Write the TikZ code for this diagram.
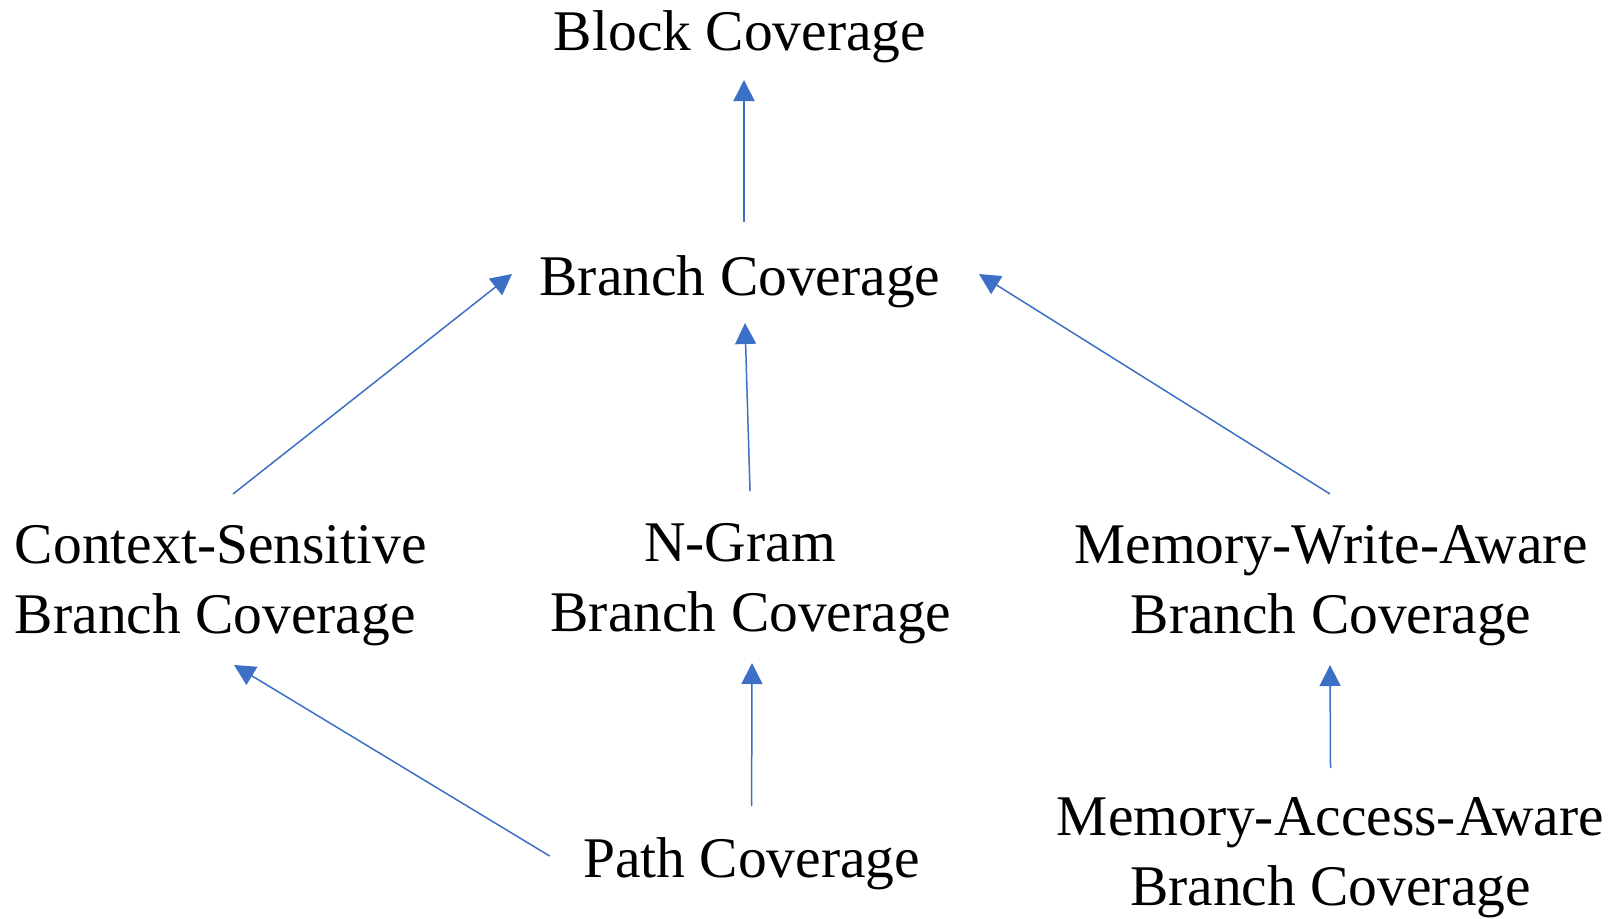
\documentclass[tikz,border=0pt]{standalone}
\usepackage{fontspec}
\setmainfont{Liberation Serif}
\usetikzlibrary{arrows.meta}
\definecolor{arrowblue}{RGB}{60,112,198}
\begin{document}
\begin{tikzpicture}[x=1pt,y=-1pt,
  label/.style={inner sep=0pt, anchor=base, font=\fontsize{57.5}{70}\selectfont, align=center},
  arr/.style={draw=arrowblue, line width=1.5pt, -{Triangle[width=21pt,length=21pt]}}]
  \useasboundingbox (0,0) rectangle (1621,918);

  % coverage criteria (multi-line labels are placed by their last baseline)
  \node[label] (block)  at (740,50)    {Block Coverage};
  \node[label] (branch) at (740,295)   {Branch Coverage};
  \node[label, align=left] (cs) at (221,633) {Context-Sensitive\\Branch Coverage};
  \node[label] (ngram)  at (751,631)   {N-Gram\hspace*{22pt}\\Branch Coverage};
  \node[label] (mwa)    at (1331,633)  {Memory-Write-Aware\\Branch Coverage};
  \node[label] (path)   at (751.6,877) {Path Coverage};
  \node[label] (maa)    at (1330.5,905) {Memory-Access-Aware\\Branch Coverage};

  % subsumption arrows
  \draw[arr] ([shift={(4,-73)}]branch.base)  -- ([shift={(4,30)}]block.base);
  \draw[arr] ([shift={(12,-139)}]cs.base)    -- ([shift={(-228,-21)}]branch.base);
  \draw[arr] ([shift={(-1,-140)}]ngram.base) -- ([shift={(5,28)}]branch.base);
  \draw[arr] ([shift={(-1,-139)}]mwa.base)   -- ([shift={(239,-21)}]branch.base);
  \draw[arr] ([shift={(-202,-21)}]path.base) -- ([shift={(13,32)}]cs.base);
  \draw[arr] ([shift={(0,-71)}]path.base)    -- ([shift={(1,32)}]ngram.base);
  \draw[arr] ([shift={(0,-137)}]maa.base)    -- ([shift={(-1,32)}]mwa.base);
\end{tikzpicture}
\end{document}
